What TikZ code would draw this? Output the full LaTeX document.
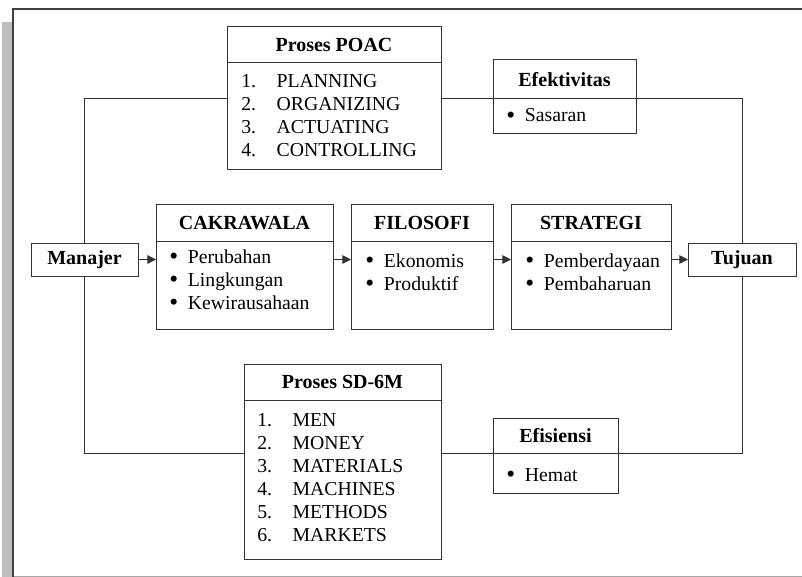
\documentclass[tikz,border=0pt]{standalone}
\usepackage{fontspec}
\setmainfont{Liberation Serif}
\usepackage{tikz}
\usetikzlibrary{positioning, arrows.meta}

\newcommand{\itembul}{\makebox[14pt][l]{\raisebox{-1.4pt}[0pt][0pt]{\fontsize{19}{19}\selectfont\textbullet}}}
\newcommand{\itemnum}[1]{\makebox[26.5pt][l]{#1}}

\begin{document}
\begin{tikzpicture}[
    x=0.75pt, y=-0.75pt,
    head_box/.style={rectangle, draw=black!80, line width=0.75pt, outer sep=0pt, inner sep=0pt, font=\fontsize{15}{17}\selectfont\bfseries},
    body_box/.style={rectangle, draw=black!80, line width=0.75pt, outer sep=0pt, inner sep=0pt},
    list_text/.style={inner sep=0pt, anchor=base west, font=\fontsize{14.8}{17.25}\selectfont},
    line_style/.style={draw=black!80, line width=0.75pt},
    arrow_style/.style={draw=black!80, line width=0.75pt, -{Triangle[length=6.5pt, width=6.5pt]}}
]

\useasboundingbox (0,0) rectangle (802,577);

% Page frame with shadow
\fill[black!25] (2,22) rectangle (13,577);
\draw[black!35, line width=1pt] (13,576.5) -- (802,576.5);
\draw[black!75, line width=1.5pt] (13,577) -- (13,9.5) -- (802,9.5);

% Proses POAC
\node[head_box, minimum width=160.5pt, minimum height=27pt] (poac_h) at (334,45) {Proses POAC};
\node[body_box, below=0pt of poac_h, minimum width=160.5pt, minimum height=80.25pt] (poac_b) {};
\node[list_text] (poac_l) at (241,88) {\begin{tabular}[t]{@{}l@{}}
\itemnum{1.}PLANNING\\ \itemnum{2.}ORGANIZING\\ \itemnum{3.}ACTUATING\\ \itemnum{4.}CONTROLLING
\end{tabular}};

% Efektivitas
\node[head_box, minimum width=107.25pt, minimum height=29.25pt] (efek_h) at (564.5,79.5) {Efektivitas};
\node[body_box, below=0pt of efek_h, minimum width=107.25pt, minimum height=26.25pt] (efek_b) {};
\node[list_text] (efek_l) at (506,122) {\itembul Sasaran};

% Middle row
\node[head_box, minimum width=80.25pt, minimum height=24.75pt] (manajer) at (84.5,259.5) {Manajer};

\node[head_box, minimum width=132.75pt, minimum height=27pt] (cakra_h) at (244.5,223) {CAKRAWALA};
\node[body_box, below=0pt of cakra_h, minimum width=132.75pt, minimum height=66pt] (cakra_b) {};
\node[list_text] (cakra_l) at (169,263) {\begin{tabular}[t]{@{}l@{}}
\itembul Perubahan\\ \itembul Lingkungan\\ \itembul Kewirausahaan
\end{tabular}};

\node[head_box, minimum width=106.5pt, minimum height=27pt] (filo_h) at (422,223) {FILOSOFI};
\node[body_box, below=0pt of filo_h, minimum width=106.5pt, minimum height=66pt] (filo_b) {};
\node[list_text] (filo_l) at (365,267) {\begin{tabular}[t]{@{}l@{}}
\itembul Ekonomis\\ \itembul Produktif
\end{tabular}};

\node[head_box, minimum width=120pt, minimum height=27pt] (strat_h) at (591,223) {STRATEGI};
\node[body_box, below=0pt of strat_h, minimum width=120pt, minimum height=66pt] (strat_b) {};
\node[list_text] (strat_l) at (525,267) {\begin{tabular}[t]{@{}l@{}}
\itembul Pemberdayaan\\ \itembul Pembaharuan
\end{tabular}};

\node[head_box, minimum width=81pt, minimum height=24.75pt] (tujuan) at (742,259.5) {Tujuan};

% Proses SD-6M
\node[head_box, minimum width=147.75pt, minimum height=27pt] (sd_h) at (342.5,382) {Proses SD-6M};
\node[body_box, below=0pt of sd_h, minimum width=147.75pt, minimum height=119.25pt] (sd_b) {};
\node[list_text] (sd_l) at (257,426) {\begin{tabular}[t]{@{}l@{}}
\itemnum{1.}MEN\\ \itemnum{2.}MONEY\\ \itemnum{3.}MATERIALS\\ \itemnum{4.}MACHINES\\ \itemnum{5.}METHODS\\ \itemnum{6.}MARKETS
\end{tabular}};

% Efisiensi
\node[head_box, minimum width=93.75pt, minimum height=26.25pt] (efis_h) at (555.5,435.5) {Efisiensi};
\node[body_box, below=0pt of efis_h, minimum width=93.75pt, minimum height=30pt] (efis_b) {};
\node[list_text] (efis_l) at (506,481) {\itembul Hemat};

% Corners of the loops
\coordinate (top_left) at (manajer.north |- efek_h.south);
\coordinate (top_right) at (tujuan.north |- efek_h.south);
\coordinate (bot_left) at (manajer.south |- efis_h.south);
\coordinate (bot_right) at (tujuan.south |- efis_h.south);

% Upper loop
\draw[line_style] (manajer.north) -- (top_left) -- (top_left -| poac_b.west);
\draw[line_style] (top_left -| poac_b.east) -- (efek_h.south west);
\draw[line_style] (efek_h.south east) -- (top_right) -- (tujuan.north);

% Lower loop
\draw[line_style] (manajer.south) -- (bot_left) -- (bot_left -| sd_b.west);
\draw[line_style] (bot_left -| sd_b.east) -- (efis_h.south west);
\draw[line_style] (efis_h.south east) -- (bot_right) -- (tujuan.south);

% Arrows along the middle row
\draw[arrow_style] (manajer.east) -- (manajer.east -| cakra_b.west);
\draw[arrow_style] (manajer.east -| cakra_b.east) -- (manajer.east -| filo_b.west);
\draw[arrow_style] (manajer.east -| filo_b.east) -- (manajer.east -| strat_b.west);
\draw[arrow_style] (manajer.east -| strat_b.east) -- (tujuan.west);

\end{tikzpicture}
\end{document}
